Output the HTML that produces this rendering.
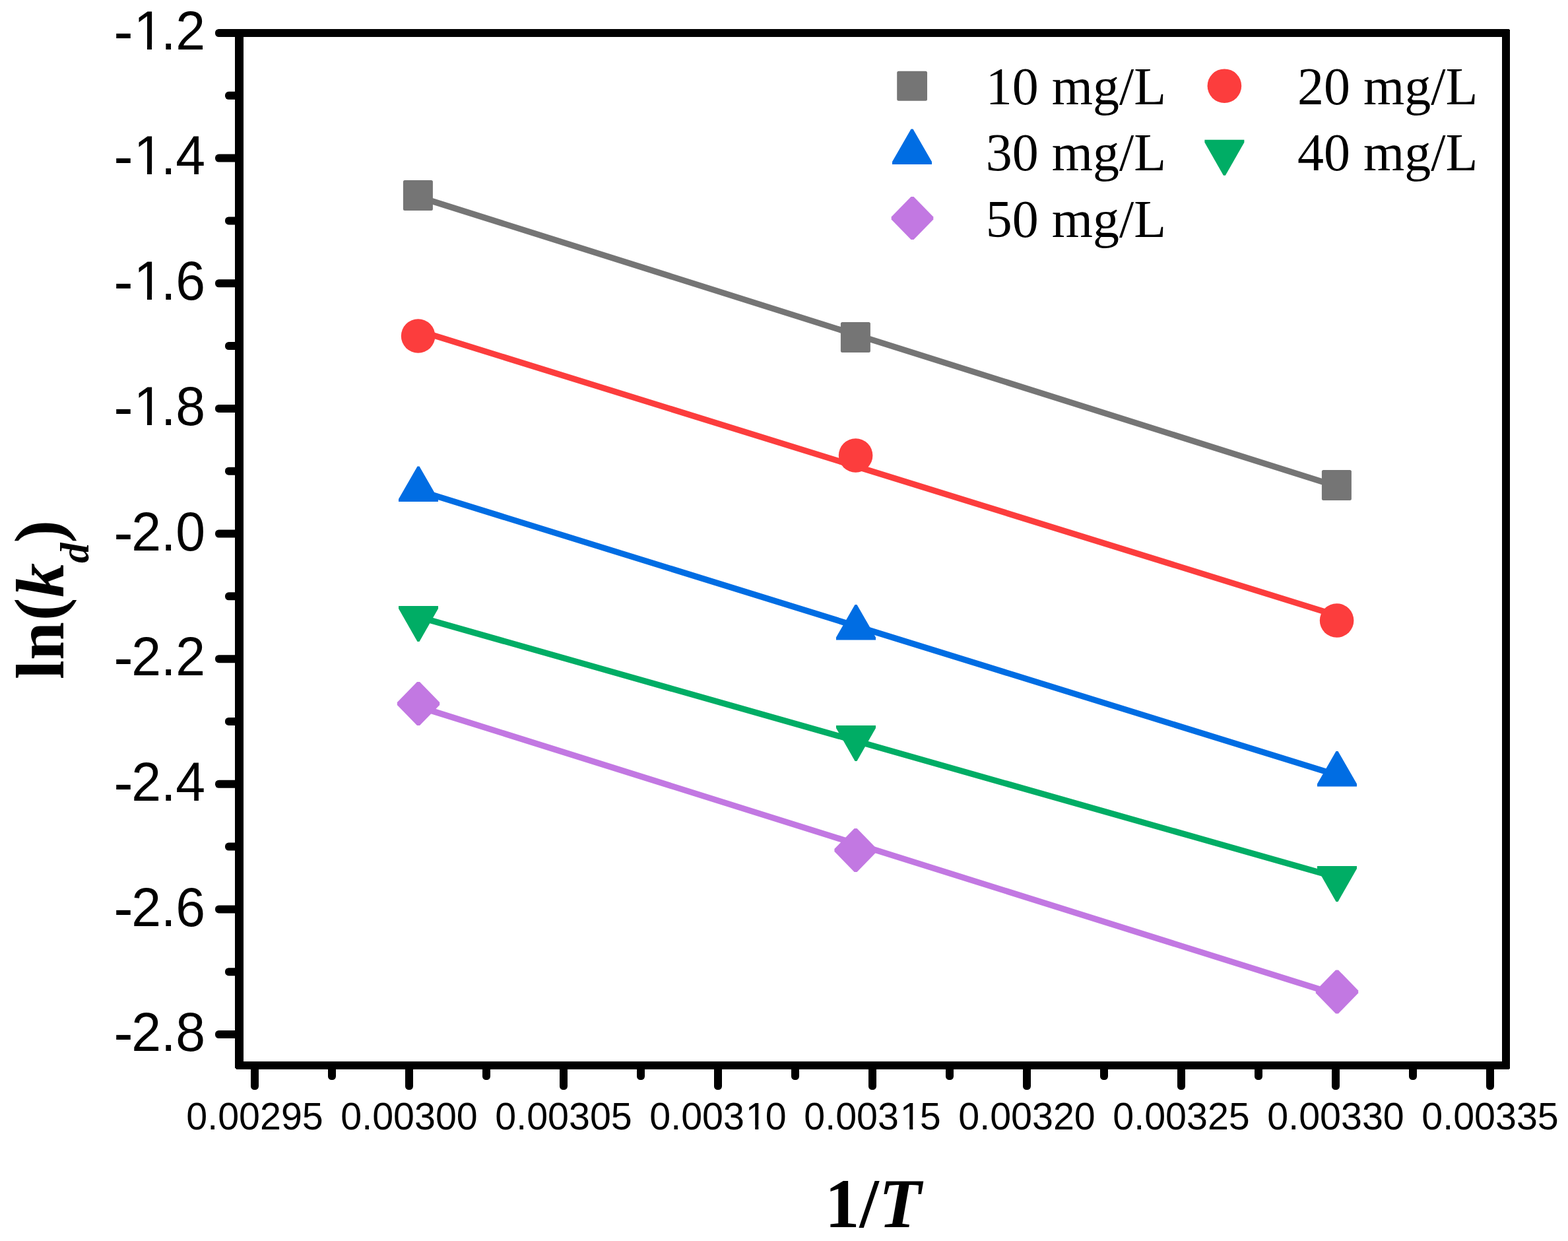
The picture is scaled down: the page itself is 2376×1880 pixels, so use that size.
<!DOCTYPE html>
<html lang="en">
<head>
<meta charset="utf-8">
<title>ln(kd) vs 1/T</title>
<style>
html,body{margin:0;padding:0;background:#fff;}
body{width:2376px;height:1880px;overflow:hidden;}
svg{display:block;}
text{white-space:pre;}
</style>
</head>
<body>
<svg width="2376" height="1880" viewBox="0 0 2376 1880">
<rect x="0" y="0" width="2376" height="1880" fill="#ffffff"/>
<g id="series">
<line x1="633.4" y1="298.0" x2="2025.4" y2="736.6" stroke="#757575" stroke-width="9.2"/>
<rect x="610.90" y="272.90" width="45" height="46" rx="2.5" fill="#757575"/>
<rect x="1273.90" y="487.90" width="45" height="46" rx="2.5" fill="#757575"/>
<rect x="2002.90" y="712.00" width="45" height="46" rx="2.5" fill="#757575"/>
<line x1="633.6" y1="500.8" x2="2025.6" y2="932.3" stroke="#fc3d3d" stroke-width="9.2"/>
<circle cx="633.60" cy="509.00" r="25.8" fill="#fc3d3d"/>
<circle cx="1296.60" cy="690.00" r="25.8" fill="#fc3d3d"/>
<circle cx="2025.60" cy="940.00" r="25.8" fill="#fc3d3d"/>
<line x1="634" y1="743.1" x2="2026" y2="1174.2" stroke="#006de3" stroke-width="9.2"/>
<path d="M632.50 706.50 L635.50 706.50 L664.00 756.10 L664.00 760.10 L604.00 760.10 L604.00 756.10 Z" fill="#006de3"/>
<path d="M1295.50 915.90 L1298.50 915.90 L1327.00 965.50 L1327.00 969.50 L1267.00 969.50 L1267.00 965.50 Z" fill="#006de3"/>
<path d="M2024.50 1138.00 L2027.50 1138.00 L2056.00 1187.60 L2056.00 1191.60 L1996.00 1191.60 L1996.00 1187.60 Z" fill="#006de3"/>
<line x1="634" y1="934.5" x2="2026" y2="1329.2" stroke="#00ad65" stroke-width="9.2"/>
<path d="M632.50 972.00 L635.50 972.00 L664.00 922.00 L664.00 918.00 L604.00 918.00 L604.00 922.00 Z" fill="#00ad65"/>
<path d="M1295.50 1153.00 L1298.50 1153.00 L1327.00 1103.00 L1327.00 1099.00 L1267.00 1099.00 L1267.00 1103.00 Z" fill="#00ad65"/>
<path d="M2024.50 1366.00 L2027.50 1366.00 L2056.00 1316.00 L2056.00 1312.00 L1996.00 1312.00 L1996.00 1316.00 Z" fill="#00ad65"/>
<line x1="634" y1="1070.5" x2="2026" y2="1507.0" stroke="#c278e2" stroke-width="9.2"/>
<path d="M632.00 1033.00 L636.00 1033.00 L666.20 1064.00 L666.20 1068.00 L636.00 1099.00 L632.00 1099.00 L601.80 1068.00 L601.80 1064.00 Z" fill="#c278e2"/>
<path d="M1294.60 1255.00 L1298.60 1255.00 L1328.80 1286.00 L1328.80 1290.00 L1298.60 1321.00 L1294.60 1321.00 L1264.40 1290.00 L1264.40 1286.00 Z" fill="#c278e2"/>
<path d="M2024.00 1469.50 L2028.00 1469.50 L2058.20 1500.50 L2058.20 1504.50 L2028.00 1535.50 L2024.00 1535.50 L1993.80 1504.50 L1993.80 1500.50 Z" fill="#c278e2"/>
</g>
<g id="axes" fill="#000" shape-rendering="crispEdges">
<path fill-rule="evenodd" d="M356 44 H2286 L2288 46 V1618 L2286 1620 H360 Q356 1620 356 1616 Z M369 56 V1608 H2276 V56 Z"/>
</g>
<g id="ticks" fill="#000">
<rect x="326" y="44.00" width="36" height="12" rx="5.5" ry="5.5"/>
<rect x="341" y="138.81" width="21" height="12" rx="5.5" ry="5.5"/>
<rect x="326" y="233.62" width="36" height="12" rx="5.5" ry="5.5"/>
<rect x="341" y="328.44" width="21" height="12" rx="5.5" ry="5.5"/>
<rect x="326" y="423.25" width="36" height="12" rx="5.5" ry="5.5"/>
<rect x="341" y="518.06" width="21" height="12" rx="5.5" ry="5.5"/>
<rect x="326" y="612.88" width="36" height="12" rx="5.5" ry="5.5"/>
<rect x="341" y="707.69" width="21" height="12" rx="5.5" ry="5.5"/>
<rect x="326" y="802.50" width="36" height="12" rx="5.5" ry="5.5"/>
<rect x="341" y="897.31" width="21" height="12" rx="5.5" ry="5.5"/>
<rect x="326" y="992.13" width="36" height="12" rx="5.5" ry="5.5"/>
<rect x="341" y="1086.94" width="21" height="12" rx="5.5" ry="5.5"/>
<rect x="326" y="1181.75" width="36" height="12" rx="5.5" ry="5.5"/>
<rect x="341" y="1276.56" width="21" height="12" rx="5.5" ry="5.5"/>
<rect x="326" y="1371.38" width="36" height="12" rx="5.5" ry="5.5"/>
<rect x="341" y="1466.19" width="21" height="12" rx="5.5" ry="5.5"/>
<rect x="326" y="1561.00" width="36" height="12" rx="5.5" ry="5.5"/>
<rect x="380.00" y="1612" width="12" height="39" rx="5.5" ry="5.5"/>
<rect x="497.00" y="1612" width="12" height="24" rx="5.5" ry="5.5"/>
<rect x="614.00" y="1612" width="12" height="39" rx="5.5" ry="5.5"/>
<rect x="731.00" y="1612" width="12" height="24" rx="5.5" ry="5.5"/>
<rect x="848.00" y="1612" width="12" height="39" rx="5.5" ry="5.5"/>
<rect x="965.00" y="1612" width="12" height="24" rx="5.5" ry="5.5"/>
<rect x="1082.00" y="1612" width="12" height="39" rx="5.5" ry="5.5"/>
<rect x="1199.00" y="1612" width="12" height="24" rx="5.5" ry="5.5"/>
<rect x="1316.00" y="1612" width="12" height="39" rx="5.5" ry="5.5"/>
<rect x="1433.00" y="1612" width="12" height="24" rx="5.5" ry="5.5"/>
<rect x="1550.00" y="1612" width="12" height="39" rx="5.5" ry="5.5"/>
<rect x="1667.00" y="1612" width="12" height="24" rx="5.5" ry="5.5"/>
<rect x="1784.00" y="1612" width="12" height="39" rx="5.5" ry="5.5"/>
<rect x="1901.00" y="1612" width="12" height="24" rx="5.5" ry="5.5"/>
<rect x="2018.00" y="1612" width="12" height="39" rx="5.5" ry="5.5"/>
<rect x="2135.00" y="1612" width="12" height="24" rx="5.5" ry="5.5"/>
<rect x="2252.00" y="1612" width="12" height="39" rx="5.5" ry="5.5"/>
</g>
<g id="ylabels" font-family="'Liberation Sans', sans-serif" font-size="83" fill="#000" text-anchor="end">
<text transform="translate(311.2 74.90) scale(0.971 1)"><tspan font-size="91" dy="4.0">-</tspan><tspan dx="1.00" dy="-4.0">1</tspan><tspan dx="-3.60">.</tspan>2</text>
<text transform="translate(311.2 263.90) scale(0.971 1)"><tspan font-size="91" dy="4.0">-</tspan><tspan dx="1.00" dy="-4.0">1</tspan><tspan dx="-3.60">.</tspan>4</text>
<text transform="translate(311.2 453.90) scale(0.971 1)"><tspan font-size="91" dy="4.0">-</tspan><tspan dx="1.00" dy="-4.0">1</tspan><tspan dx="-3.60">.</tspan>6</text>
<text transform="translate(311.2 643.90) scale(0.971 1)"><tspan font-size="91" dy="4.0">-</tspan><tspan dx="1.00" dy="-4.0">1</tspan><tspan dx="-3.60">.</tspan>8</text>
<text transform="translate(311.2 833.90) scale(0.971 1)"><tspan font-size="91" dy="4.0">-</tspan><tspan dx="-2.6" dy="-4.0">2.0</tspan></text>
<text transform="translate(311.2 1023.40) scale(0.971 1)"><tspan font-size="91" dy="4.0">-</tspan><tspan dx="-2.6" dy="-4.0">2.2</tspan></text>
<text transform="translate(311.2 1212.90) scale(0.971 1)"><tspan font-size="91" dy="4.0">-</tspan><tspan dx="-2.6" dy="-4.0">2.4</tspan></text>
<text transform="translate(311.2 1402.90) scale(0.971 1)"><tspan font-size="91" dy="4.0">-</tspan><tspan dx="-2.6" dy="-4.0">2.6</tspan></text>
<text transform="translate(311.2 1591.90) scale(0.971 1)"><tspan font-size="91" dy="4.0">-</tspan><tspan dx="-2.6" dy="-4.0">2.8</tspan></text>
</g>
<g id="xlabels" font-family="'Liberation Sans', sans-serif" font-size="57.4" fill="#000" text-anchor="middle">
<text x="386.00" y="1711.2">0.00295</text>
<text x="620.00" y="1711.2">0.00300</text>
<text x="854.00" y="1711.2">0.00305</text>
<text x="1088.00" y="1711.2">0.003<tspan dx="1.9">1</tspan><tspan dx="-1.9">0</tspan></text>
<text x="1322.00" y="1711.2">0.003<tspan dx="1.9">1</tspan><tspan dx="-1.9">5</tspan></text>
<text x="1556.00" y="1711.2">0.00320</text>
<text x="1790.00" y="1711.2">0.00325</text>
<text x="2024.00" y="1711.2">0.00330</text>
<text x="2258.00" y="1711.2">0.00335</text>
</g>
<g id="glyphtrim" fill="#fff">
<rect x="207.60" y="66.70" width="15.33" height="9.40"/>
<rect x="230.05" y="66.70" width="14.70" height="9.40"/>
<rect x="207.60" y="255.70" width="15.33" height="9.40"/>
<rect x="230.05" y="255.70" width="14.70" height="9.40"/>
<rect x="207.60" y="445.70" width="15.33" height="9.40"/>
<rect x="230.05" y="445.70" width="14.70" height="9.40"/>
<rect x="207.60" y="635.70" width="15.33" height="9.40"/>
<rect x="230.05" y="635.70" width="14.70" height="9.40"/>
<rect x="1132.97" y="1704.91" width="11.26" height="7.49"/>
<rect x="1149.30" y="1704.91" width="10.81" height="7.49"/>
<rect x="1366.97" y="1704.91" width="11.26" height="7.49"/>
<rect x="1383.30" y="1704.91" width="10.81" height="7.49"/>
</g>
<g id="titles" font-family="'Liberation Serif', serif" font-weight="bold" fill="#000">
<text x="1250" y="1859.2" font-size="105">1/<tspan font-style="italic">T</tspan></text>
<text transform="translate(96 1029) rotate(-90)" font-size="104">ln<tspan dx="2" dy="-2">(</tspan><tspan font-style="italic" dx="0.7" dy="2">k</tspan><tspan font-style="italic" font-size="61" dy="37.5">d</tspan><tspan dy="-39.5">)</tspan></text>
</g>
<g id="legend" font-family="'Liberation Serif', serif" font-size="80" fill="#000">
<rect x="1359.20" y="107.80" width="45.8" height="45" rx="2.5" fill="#757575"/>
<text x="1493.8" y="158">10 mg/L</text>
<circle cx="1855.40" cy="130.20" r="25.8" fill="#fc3d3d"/>
<text x="1966" y="158">20 mg/L</text>
<path d="M1380.50 195.40 L1383.50 195.40 L1412.00 245.00 L1412.00 249.00 L1352.00 249.00 L1352.00 245.00 Z" fill="#006de3"/>
<text x="1493.8" y="258">30 mg/L</text>
<path d="M1853.90 265.80 L1856.90 265.80 L1885.40 215.80 L1885.40 211.80 L1825.40 211.80 L1825.40 215.80 Z" fill="#00ad65"/>
<text x="1966" y="258">40 mg/L</text>
<path d="M1380.50 297.90 L1384.50 297.90 L1414.30 328.40 L1414.30 332.40 L1384.50 362.90 L1380.50 362.90 L1350.70 332.40 L1350.70 328.40 Z" fill="#c278e2"/>
<text x="1493.8" y="358.5">50 mg/L</text>
</g>
</svg>
</body>
</html>
